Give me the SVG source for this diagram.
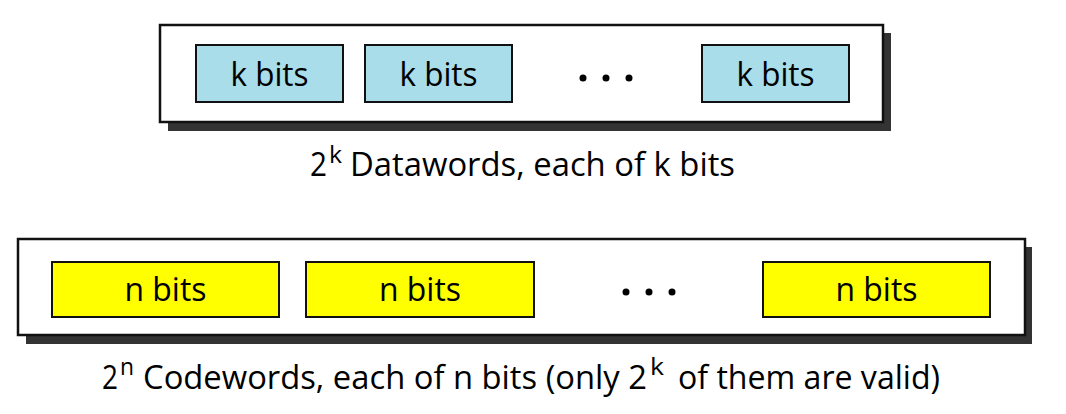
<svg xmlns="http://www.w3.org/2000/svg" width="1066" height="414" viewBox="0 0 1066 414">
<style>
.shadow{fill:#333333}
.outer{fill:#ffffff;stroke:#111111;stroke-width:2.5}
.kbox{fill:#a8dde9;stroke:#111111;stroke-width:2}
.nbox{fill:#ffff00;stroke:#111111;stroke-width:2}
.lbl{font-family:"Open Sans","Liberation Sans",sans-serif;font-size:33px;fill:#000;text-anchor:middle}
.cap{font-family:"Open Sans","Liberation Sans",sans-serif;font-size:32px;fill:#000}
.sup{font-family:"Open Sans","Liberation Sans",sans-serif;font-size:24px;fill:#000}
.dot{fill:#000}
</style>
<rect width="1066" height="414" fill="#ffffff"/>
<g id="datawords">
<rect class="shadow" x="168" y="33" width="723" height="98"/>
<rect class="outer" x="160" y="25" width="723" height="97"/>
</g>
<g id="dw1"><rect class="kbox" x="196" y="45" width="147" height="57"/><text class="lbl" x="269.5" y="86" textLength="78" lengthAdjust="spacingAndGlyphs">k bits</text></g>
<g id="dw2"><rect class="kbox" x="365" y="45" width="147" height="57"/><text class="lbl" x="438.5" y="86" textLength="78" lengthAdjust="spacingAndGlyphs">k bits</text></g>
<g id="dwdots"><circle class="dot" cx="583" cy="78" r="3.5"/><circle class="dot" cx="606" cy="78" r="3.5"/><circle class="dot" cx="629" cy="78" r="3.5"/></g>
<g id="dw3"><rect class="kbox" x="702" y="45" width="147" height="57"/><text class="lbl" x="775.5" y="86" textLength="78" lengthAdjust="spacingAndGlyphs">k bits</text></g>
<g id="cap1">
<text class="cap" x="310" y="176" textLength="17" lengthAdjust="spacingAndGlyphs">2</text>
<text class="sup" x="329" y="163" textLength="13" lengthAdjust="spacingAndGlyphs">k</text>
<text class="cap" x="350" y="176" textLength="385" lengthAdjust="spacingAndGlyphs">Datawords, each of k bits</text>
</g>
<g id="codewords">
<rect class="shadow" x="26" y="247" width="1006" height="97"/>
<rect class="outer" x="18" y="239" width="1007" height="96"/>
</g>
<g id="cw1"><rect class="nbox" x="52" y="262" width="227" height="55"/><text class="lbl" x="165.5" y="301" textLength="82" lengthAdjust="spacingAndGlyphs">n bits</text></g>
<g id="cw2"><rect class="nbox" x="306" y="262" width="228" height="55"/><text class="lbl" x="420" y="301" textLength="82" lengthAdjust="spacingAndGlyphs">n bits</text></g>
<g id="cwdots"><circle class="dot" cx="626" cy="292" r="3.5"/><circle class="dot" cx="649" cy="292" r="3.5"/><circle class="dot" cx="672" cy="292" r="3.5"/></g>
<g id="cw3"><rect class="nbox" x="763" y="262" width="227" height="55"/><text class="lbl" x="876.5" y="301" textLength="82" lengthAdjust="spacingAndGlyphs">n bits</text></g>
<g id="cap2">
<text class="cap" x="102" y="389" textLength="16" lengthAdjust="spacingAndGlyphs">2</text>
<text class="sup" x="120" y="375" textLength="14" lengthAdjust="spacingAndGlyphs">n</text>
<text class="cap" x="143" y="389" textLength="504" lengthAdjust="spacingAndGlyphs">Codewords, each of n bits (only 2</text>
<text class="sup" x="650" y="375" textLength="14" lengthAdjust="spacingAndGlyphs">k</text>
<text class="cap" x="678" y="389" textLength="262" lengthAdjust="spacingAndGlyphs">of them are valid)</text>
</g>
</svg>
